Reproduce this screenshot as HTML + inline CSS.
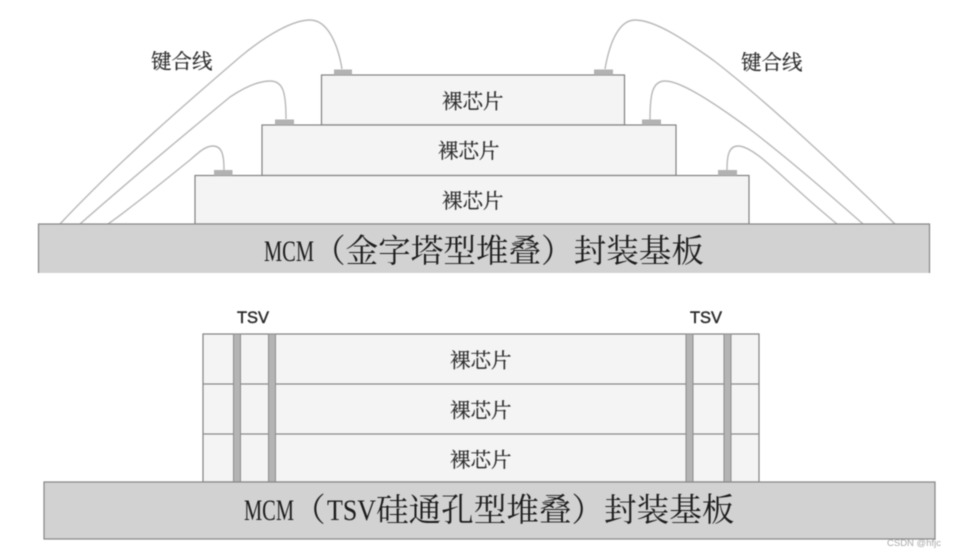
<!DOCTYPE html>
<html>
<head>
<meta charset="utf-8">
<style>
html,body{margin:0;padding:0;background:#fff}
svg{display:block}
.all{filter:blur(.45px)}
.zh{font-family:"Liberation Serif","Noto Serif CJK SC",serif}
.big{font-size:32.6px;fill:#1c1c1c}
.mid{font-size:20.5px;fill:#2c2c2c;stroke:#2c2c2c;stroke-width:.25}
.w{fill:none;stroke:#b8b8b8;stroke-width:1.4}
.d{fill:#f4f4f4;stroke:#808080;stroke-width:1.2}
.p{fill:#b2b2b2}
.s{fill:#d2d2d2;stroke:#858585;stroke-width:1.2}
.t{fill:#b4b4b4;stroke:#8c8c8c;stroke-width:1}
.l{stroke:#8a8a8a;stroke-width:1.2}
.sans{font-family:"Liberation Sans",sans-serif}
</style>
</head>
<body>
<svg width="956" height="557" viewBox="0 0 956 557" xmlns="http://www.w3.org/2000/svg">
<rect width="956" height="557" fill="#fff"/>
<g class="all">
<!-- wires left -->
<path class="w" d="M60 224 C120 160 190 100 240 57 C270 32 295 20 310 20 C328 20 338 45 342 69"/>
<path class="w" d="M80 224 C130 180 190 130 230 97 C245 87 258 81 270 81 C283 81 286 92 286 119"/>
<path class="w" d="M108 224 C135 205 165 180 190 160 C198 153 205 146 213 146 C222 146 224 155 224 170"/>
<!-- wires right -->
<path class="w" d="M605 69 C610 40 620 20 635 20 C655 20 685 40 713 60 C765 100 840 170 895 224"/>
<path class="w" d="M650 120 C650 95 652 81 665 81 C680 81 710 100 747 127 C790 160 830 195 863 224"/>
<path class="w" d="M727 170 C727 155 729 146 738 146 C752 146 775 170 800 192 C812 203 825 214 837 224"/>

<!-- top dies -->
<rect class="d" x="321.5" y="75" width="303" height="50"/>
<rect class="d" x="262" y="125" width="414" height="50.5"/>
<rect class="d" x="195" y="175.5" width="554" height="48.5"/>
<!-- pads -->
<rect class="p" x="334" y="69.5" width="18" height="5.5"/>
<rect class="p" x="275" y="119.5" width="19" height="5.5"/>
<rect class="p" x="214" y="170" width="18.5" height="5.5"/>
<rect class="p" x="594" y="69.5" width="19" height="5.5"/>
<rect class="p" x="642" y="119.5" width="19" height="5.5"/>
<rect class="p" x="718" y="170" width="19" height="5.5"/>
<!-- top substrate -->
<rect class="s" x="38.5" y="224" width="891" height="52"/>
<rect x="30" y="273" width="910" height="6" fill="#fff"/>

<text class="zh mid" x="151" y="68.5">键合线</text>
<text class="zh mid" x="741" y="69.5">键合线</text>
<text class="zh mid" x="442" y="108.5">裸芯片</text>
<text class="zh mid" x="438" y="158">裸芯片</text>
<text class="zh mid" x="442" y="208">裸芯片</text>

<text x="264" y="261" font-family="'Liberation Serif',serif" font-size="30" fill="#1c1c1c" textLength="50" lengthAdjust="spacingAndGlyphs">MCM</text>
<text class="zh big" x="313" y="262">（金字塔型堆叠）封装基板</text>

<!-- bottom stack -->
<rect class="d" x="203" y="334" width="556" height="148"/>
<line class="l" x1="203" y1="384" x2="759" y2="384"/>
<line class="l" x1="203" y1="434" x2="759" y2="434"/>
<rect class="t" x="233.5" y="334" width="7" height="148"/>
<rect class="t" x="268.5" y="334" width="7" height="148"/>
<rect class="t" x="686" y="334" width="7" height="148"/>
<rect class="t" x="724" y="334" width="7" height="148"/>
<rect class="s" x="44" y="482" width="891" height="57"/>

<text class="sans" x="237" y="323" font-size="17" fill="#2a2a2a" stroke="#2a2a2a" stroke-width=".45" textLength="32" lengthAdjust="spacingAndGlyphs">TSV</text>
<text class="sans" x="690" y="323" font-size="17" fill="#2a2a2a" stroke="#2a2a2a" stroke-width=".45" textLength="32" lengthAdjust="spacingAndGlyphs">TSV</text>

<text class="zh mid" x="450" y="367.5">裸芯片</text>
<text class="zh mid" x="450" y="417.5">裸芯片</text>
<text class="zh mid" x="450" y="467">裸芯片</text>

<text x="244" y="520" font-family="'Liberation Serif',serif" font-size="30" fill="#1c1c1c" textLength="50" lengthAdjust="spacingAndGlyphs">MCM</text>
<text class="zh big" x="293" y="521">（</text>
<text x="327" y="520" font-family="'Liberation Serif',serif" font-size="30" fill="#1c1c1c" textLength="49" lengthAdjust="spacingAndGlyphs">TSV</text>
<text class="zh big" x="376" y="521">硅通孔型堆叠）封装基板</text>

<text class="sans" x="887" y="546" font-size="9.5" fill="#a8a8a8">CSDN @hfjc</text>
</g>
</svg>
</body>
</html>
